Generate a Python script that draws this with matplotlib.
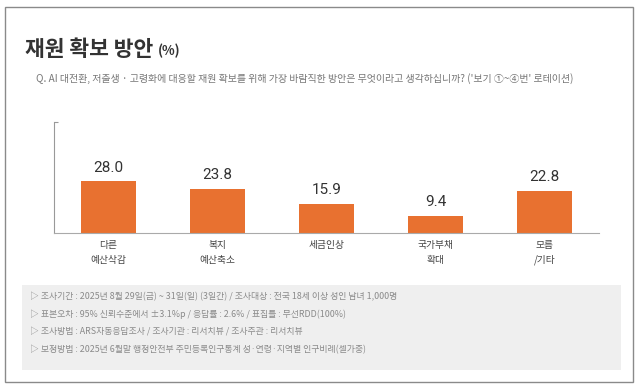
import matplotlib.pyplot as plt
from matplotlib.patches import Rectangle

plt.rcParams['font.family'] = ['Noto Sans CJK KR', 'DejaVu Sans']

# Data
categories = ['다른\n예산삭감', '복지\n예산축소', '세금인상', '국가부채\n확대', '모름\n/기타']
values = [28.0, 23.8, 15.9, 9.4, 22.8]

title = '재원 확보 방안'
subtitle = ("Q. AI 대전환, 저출생 · 고령화에 대응할 재원 확보를 위해 가장 바람직한 방안은 "
            "무엇이라고 생각하십니까? ('보기 ①~④번' 로테이션)")
notes = [
    '▷ 조사기간 : 2025년 8월 29일(금) ~ 31일(일) (3일간) / 조사대상 : 전국 18세 이상 성인 남녀 1,000명',
    '▷ 표본오차 : 95% 신뢰수준에서 ±3.1%p / 응답률 : 2.6% / 표집틀 : 무선RDD(100%)',
    '▷ 조사방법 : ARS자동응답조사 / 조사기관 : 리서치뷰 / 조사주관 : 리서치뷰',
    '▷ 보정방법 : 2025년 6월말 행정안전부 주민등록인구통계 성·연령·지역별 인구비례(셀가중)',
]

W, H = 642, 392
BAR_COLOR = '#E87130'


def fx(px):
    return px / W


def fy(py):
    return 1 - py / H


fig = plt.figure(figsize=(W / 100, H / 100), dpi=100)

# Outer frame and footnote box
fig.patches.append(Rectangle((fx(5), fy(382)), fx(633) - fx(5), fy(7) - fy(382),
                             transform=fig.transFigure, fill=False,
                             edgecolor='#8a8a8a', linewidth=1.0))
fig.patches.append(Rectangle((fx(22), fy(370)), fx(621) - fx(22), fy(285) - fy(370),
                             transform=fig.transFigure, facecolor='#efefef',
                             edgecolor='none'))

# Title and question
t = fig.text(fx(25), fy(50), title, fontsize=15.5, fontweight='heavy',
             color='#333333', va='center', ha='left')
fig.canvas.draw()
bb = t.get_window_extent()
fig.text((bb.x1 + 5) / W, fy(51), '(%)', fontsize=9.5, fontweight='bold',
         color='#333333', va='center', ha='left')
fig.text(fx(36), fy(79), subtitle, fontsize=7.2, color='#777777',
         va='center', ha='left')

# Bars
ax = fig.add_axes([fx(54), fy(233), fx(599) - fx(54), fy(122) - fy(233)])
x = range(len(values))
bars = ax.bar(x, values, width=0.5, color=BAR_COLOR)
ax.set_xlim(-0.5, len(values) - 0.5)
ax.set_ylim(0, 60)

for bar, v in zip(bars, values):
    ax.text(bar.get_x() + bar.get_width() / 2, v + 3.5, f'{v:.1f}',
            ha='center', va='bottom', fontsize=11, color='#333333',
            family=['Roboto', 'DejaVu Sans'])

ax.set_xticks(list(x))
ax.set_xticklabels(categories, fontsize=7, color='#444444', linespacing=1.6)
ax.tick_params(axis='x', length=0, pad=5)
ax.set_yticks([60])
ax.set_yticklabels([])
ax.tick_params(axis='y', direction='in', length=3, color='#999999', width=0.8)

for side in ['top', 'right']:
    ax.spines[side].set_visible(False)
ax.spines['left'].set_color('#999999')
ax.spines['left'].set_linewidth(0.8)
ax.spines['bottom'].set_color('#aaaaaa')
ax.spines['bottom'].set_linewidth(0.8)

# Footnotes
for i, line in enumerate(notes):
    fig.text(fx(30), fy(297 + i * 17.5), line, fontsize=6.4, color='#8a8a8a',
             va='center', ha='left')

plt.savefig('out.png', dpi=100)
